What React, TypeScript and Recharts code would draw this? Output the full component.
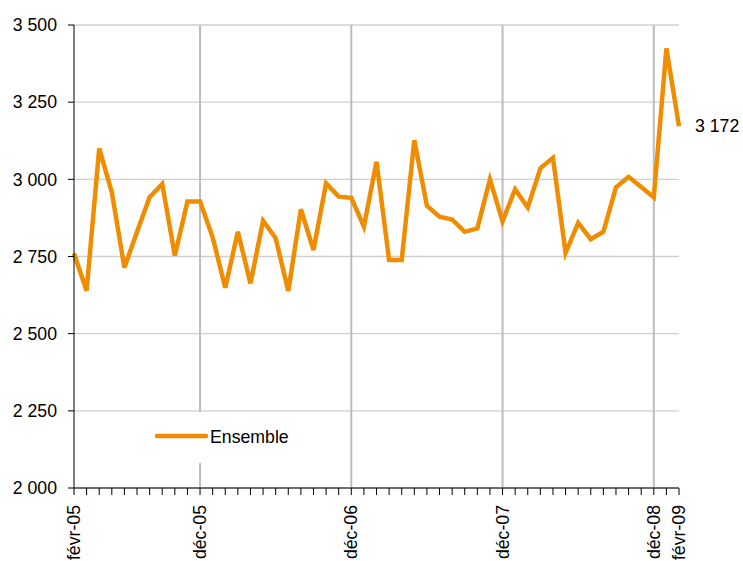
import React from "react";
import { LineChart, Line, XAxis, YAxis, CartesianGrid, ReferenceLine } from "recharts";

const months: string[] = [
  "févr-05", "mars-05", "avr-05", "mai-05", "juin-05", "juil-05", "août-05", "sept-05", "oct-05", "nov-05", "déc-05",
  "janv-06", "févr-06", "mars-06", "avr-06", "mai-06", "juin-06", "juil-06", "août-06", "sept-06", "oct-06", "nov-06", "déc-06",
  "janv-07", "févr-07", "mars-07", "avr-07", "mai-07", "juin-07", "juil-07", "août-07", "sept-07", "oct-07", "nov-07", "déc-07",
  "janv-08", "févr-08", "mars-08", "avr-08", "mai-08", "juin-08", "juil-08", "août-08", "sept-08", "oct-08", "nov-08", "déc-08",
  "janv-09", "févr-09",
];

const ensemble: number[] = [
  2760, 2639, 3100, 2958, 2714, 2830, 2942, 2985, 2753, 2928, 2928,
  2812, 2649, 2830, 2663, 2866, 2809, 2638, 2903, 2771, 2987, 2944, 2940,
  2847, 3057, 2739, 2739, 3127, 2914, 2879, 2870, 2830, 2841, 3000, 2864,
  2968, 2909, 3036, 3070, 2762, 2859, 2806, 2830, 2974, 3008, 2975, 2942,
  3424, 3172,
];

const shownLabels: string[] = ["févr-05", "déc-05", "déc-06", "déc-07", "déc-08", "févr-09"];
const yearMarks: string[] = ["déc-05", "déc-06", "déc-07", "déc-08"];
const yTicks: number[] = [2000, 2250, 2500, 2750, 3000, 3250, 3500];
const seriesName = "Ensemble";
const endLabel = "3 172";

const data = months.map((m, i) => ({ month: m, value: ensemble[i] }));

const FONT = "'Liberation Sans', Arial, sans-serif";
const FS = 17.7;
const ORANGE = "#F08C00";

const fmt = (v: number) => `${Math.floor(v / 1000)} ${String(v % 1000).padStart(3, "0")}`;

const XTick = (props: any) => {
  const { x, y, payload } = props;
  if (!shownLabels.includes(payload.value)) return <g />;
  return (
    <text
      x={x}
      y={y}
      transform={`rotate(-90, ${x}, ${y})`}
      textAnchor="end"
      dy="0.35em"
      fontSize={FS}
      fontFamily={FONT}
      fill="#000"
    >
      {payload.value}
    </text>
  );
};

const EndLabel = (props: any) => {
  const { x, y, index } = props;
  if (index !== data.length - 1) return null;
  return (
    <text x={x + 16} y={y} dy="0.35em" fontSize={FS} fontFamily={FONT} fill="#000" textAnchor="start">
      {endLabel}
    </text>
  );
};

export default function App() {
  return (
    <div style={{ position: "absolute", left: 0, top: 0, width: 743, height: 561, background: "#fff" }}>
      <LineChart
        width={743}
        height={561}
        data={data}
        margin={{ top: 25, right: 64, left: 0, bottom: 0 }}
      >
        <CartesianGrid vertical={false} stroke="#d0d0d0" strokeWidth={1.3} />
        {yearMarks.map((m) => (
          <ReferenceLine key={m} x={m} stroke="#bdbdbd" strokeWidth={2} />
        ))}
        <XAxis
          dataKey="month"
          interval={0}
          tick={<XTick />}
          tickSize={7}
          tickMargin={10}
          height={73}
          stroke="#000"
          tickLine={{ stroke: "#000" }}
          axisLine={{ stroke: "#000" }}
          padding={{ left: 0, right: 0 }}
        />
        <YAxis
          domain={[2000, 3500]}
          ticks={yTicks}
          tickFormatter={fmt}
          width={74}
          tickSize={6}
          tickMargin={11}
          interval={0}
          stroke="#000"
          tick={{ fontSize: FS, fontFamily: FONT, fill: "#000" }}
          allowDataOverflow
        />
        <Line
          type="linear"
          dataKey="value"
          name={seriesName}
          stroke={ORANGE}
          strokeWidth={4.5}
          dot={false}
          isAnimationActive={false}
          label={<EndLabel />}
        />
      </LineChart>
      <div
        style={{
          position: "absolute",
          left: 150,
          top: 412,
          width: 145,
          height: 51,
          background: "#fff",
        }}
      >
        <svg width={145} height={51} style={{ display: "block" }}>
          <line x1={7} y1={24} x2={56} y2={24} stroke={ORANGE} strokeWidth={4.5} strokeLinecap="round" />
          <text x={60} y={25} dy="0.35em" fontSize={FS} fontFamily={FONT} fill="#000">
            {seriesName}
          </text>
        </svg>
      </div>
    </div>
  );
}
